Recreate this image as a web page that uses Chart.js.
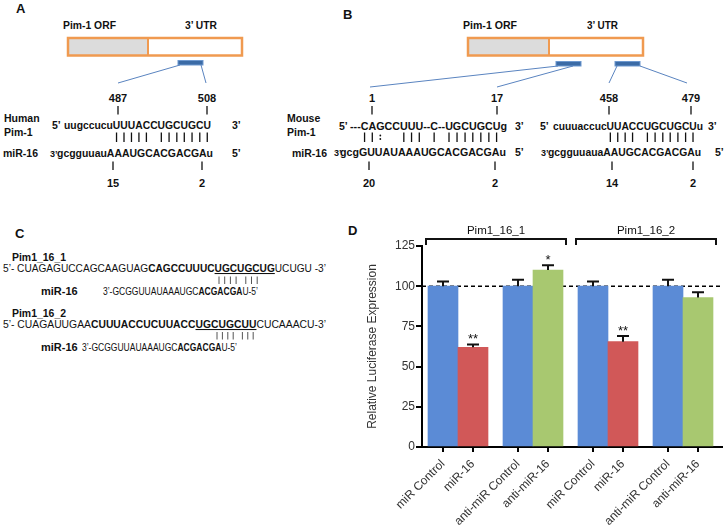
<!DOCTYPE html>
<html lang="en">
<head>
<meta charset="UTF-8" />
<title>Pim-1 / miR-16</title>
<script src="https://cdn.jsdelivr.net/npm/chart.js@4.4.0/dist/chart.umd.min.js"></script>
<style>
  body { margin: 0; background: #fff; }
  #page { position: relative; width: 725px; height: 527px; overflow: hidden; font-family: "Liberation Sans", Arial, sans-serif; }
  #art { position: absolute; left: 0; top: 0; }
  #chartD { position: absolute; left: 340px; top: 215px; }
</style>
</head>
<body>
<div id="page">
  <svg id="art" width="725" height="527" xmlns="http://www.w3.org/2000/svg"></svg>
  <canvas id="chartD" width="385" height="312"></canvas>
</div>
<script>
// ---- panel D data ----
const barLabels = ['miR Control', 'miR-16', 'anti-miR Control', 'anti-miR-16',
                   'miR Control', 'miR-16', 'anti-miR Control', 'anti-miR-16'];
const barPos = [0, 2, 5, 7, 10, 12, 15, 17];
const barValues = [100, 62, 100, 110, 100, 65.5, 100, 93];
const barErrors = [3, 1.8, 4, 3, 3, 3.6, 4, 3.3];
const barColors = ['#5B8BD6', '#D15858', '#5B8BD6', '#A8C870',
                   '#5B8BD6', '#D15858', '#5B8BD6', '#A8C870'];
const barStars = ['', '**', '', '*', '', '**', '', ''];
const groupNames = ['Pim1_16_1', 'Pim1_16_2'];
const refLine = 100;

// ---- diagram panels A-C ----
const svg = document.getElementById('art');
const NS = 'http://www.w3.org/2000/svg';
function el(tag, attrs, parent) {
  const e = document.createElementNS(NS, tag);
  for (const k in attrs) e.setAttribute(k, attrs[k]);
  (parent || svg).appendChild(e);
  return e;
}
function addText(x, y, parts, size, o) {
  o = o || {};
  const t = el('text', { x: x, y: y, 'font-size': size, 'font-weight': o.bold ? 'bold' : 'normal',
                         'text-anchor': o.anchor || 'start', fill: '#111' });
  t.style.whiteSpace = 'pre';
  if (o.len) { t.setAttribute('textLength', o.len); t.setAttribute('lengthAdjust', 'spacingAndGlyphs'); }
  (Array.isArray(parts) ? parts : [[parts, '']]).forEach(([s, st]) => {
    const sp = el('tspan', {}, t);
    if (st.includes('b')) sp.setAttribute('font-weight', 'bold');
    if (st.includes('u')) sp.setAttribute('text-decoration', 'underline');
    sp.textContent = s;
  });
  return t;
}
function pairBars(t, mask, y1, y2) {
  for (let i = 0; i < mask.length; i++) {
    const c = mask[i];
    if (c !== '|' && c !== ':') continue;
    const cx = (t.getStartPositionOfChar(i).x + t.getEndPositionOfChar(i).x) / 2;
    if (c === '|') el('line', { x1: cx, y1: y1, x2: cx, y2: y2, stroke: '#111', 'stroke-width': 1.3 });
    else {
      el('circle', { cx: cx, cy: y1 + 3, r: 0.9, fill: '#111' });
      el('circle', { cx: cx, cy: y2 - 3, r: 0.9, fill: '#111' });
    }
  }
}
function vline(x, y1, y2, w, c) {
  el('line', { x1: x, y1: y1, x2: x, y2: y2, stroke: c || '#111', 'stroke-width': w || 1.3 });
}

// gene boxes (ORF grey + UTR white)
function geneBox(x, w, split) {
  el('rect', { x: x, y: 38, width: split - x, height: 17.5, fill: '#DCDCDC' });
  el('rect', { x: x, y: 38, width: w, height: 17.5, fill: 'none', stroke: '#F09A50', 'stroke-width': 2.5 });
  el('line', { x1: split, y1: 38, x2: split, y2: 55.5, stroke: '#F09A50', 'stroke-width': 2 });
}
geneBox(68, 174, 148);
geneBox(468, 175, 549);
[[178, 60.5], [556, 61.5], [615, 61.5]].forEach(([x, y]) =>
  el('rect', { x: x, y: y, width: 25, height: 4.5, fill: '#3B6BA6', stroke: '#6D98CF', 'stroke-width': 1 }));
[[180, 65, 118, 83], [201, 65, 206, 83], [558, 66, 370, 87], [573, 66, 497, 87],
 [617, 66, 609, 83], [640, 66, 687, 83]].forEach(([a, b, c, d]) =>
  el('line', { x1: a, y1: b, x2: c, y2: d, stroke: '#5A84C0', 'stroke-width': 1 }));

// bold labels: [text, x, y, size, anchor]
const boldLabels = [
  ['A', 16, 13, 13], ['B', 343, 19, 13], ['C', 15, 238, 13], ['D', 348, 235, 13],
  ['Human', 4, 122, 10.5], ['Pim-1', 4, 136, 10.5], ['miR-16', 3, 157, 10.5],
  ['Mouse', 287, 122, 10.5], ['Pim-1', 287, 136, 10.5], ['miR-16', 292, 157, 10.5],
  ['5’', 52, 128.5, 10.5], ['3’', 232, 128.5, 10.5], ['3’', 50, 157, 9], ['5’', 232, 157, 10.5],
  ['5’', 339, 130, 10.5], ['3’', 515, 130, 10.5], ['3’', 334, 156, 9], ['5’', 515, 156, 10.5],
  ['5’', 540, 130, 10.5], ['3’', 708, 130, 10.5], ['3’', 541, 156, 9], ['5’', 715, 156, 10.5],
  ['487', 118, 102, 11, 'middle'], ['508', 207, 102, 11, 'middle'],
  ['15', 113, 187, 11, 'middle'], ['2', 202, 187, 11, 'middle'],
  ['1', 372, 102, 11, 'middle'], ['17', 497, 102, 11, 'middle'],
  ['458', 609, 102, 11, 'middle'], ['479', 691, 102, 11, 'middle'],
  ['20', 369, 187, 11, 'middle'], ['2', 495, 187, 11, 'middle'],
  ['14', 612, 187, 11, 'middle'], ['2', 693, 187, 11, 'middle'],
  ['miR-16', 41, 294.5, 11], ['miR-16', 41, 350.5, 11]
];
boldLabels.forEach(([s, x, y, size, anchor]) => addText(x, y, s, size, { bold: true, anchor: anchor }));
addText(63, 29, 'Pim-1 ORF', 11, { bold: true, len: 53 });
addText(185, 29, '3’ UTR', 11, { bold: true, len: 32 });
addText(463, 29, 'Pim-1 ORF', 11, { bold: true, len: 54 });
addText(587, 29, '3’ UTR', 11, { bold: true, len: 31 });
addText(12, 261, 'Pim1_16_1', 11, { bold: true, len: 54 });
addText(12, 317, 'Pim1_16_2', 11, { bold: true, len: 54 });

// number ticks
[118, 207, 372, 497, 609, 691].forEach(x => vline(x, 106, 114.5));
[113, 202, 369, 495, 612, 693].forEach(x => vline(x, 161.5, 170));

// duplexes: [target, x, y, len, mask, miR, x, y, len]
const duplexes = [
  ['uugccucuUUUACCUGCUGCU', 64, 128.5, 147, '        |||||.|||||||',
   'gcgguuauAAAUGCACGACGAu', 57, 157, 156],
  ['---CAGCCUUU--C--UGCUGCUg', 350, 130, 157, '   ||:  |||  |  ||||||| ',
   'gcgGUUAUAAAUGCACGACGAu', 340, 156, 166],
  ['cuuuaccucUUACCUGCUGCUu', 553, 130, 150, '         ||||.||||||| ',
   'gcgguuauaAAUGCACGACGAu', 548, 156, 153]
];
duplexes.forEach(([tg, tx, ty, tl, mask, mi, mx, my, ml]) => {
  const t = addText(tx, ty, tg, 10.5, { bold: true, len: tl });
  addText(mx, my, mi, 10.5, { bold: true, len: ml });
  pairBars(t, mask, 132.5, 142);
});

// panel C constructs
const seedSteps = [0, 1, 2, 3, 4.7, 5.7, 6.7];
addText(3, 272, [['5’- CUAGAGUCCAGCAAGUAG', ''], ['CAGCCUUUC', 'b'], ['UGCUGCUG', 'bu'], ['UCUGU -3’', '']], 10.5, { len: 323 });
seedSteps.forEach(k => vline(219 + 5.7 * k, 276.5, 284, 1, '#555'));
addText(103, 294.5, [['3’-GCGGUUAUAAAUGC', ''], ['ACGACGA', 'b'], ['U-5’', '']], 10.5, { len: 155 });
addText(3, 328, [['5’- CUAGAUUGAA', ''], ['CUUUACCUCUUACC', 'b'], ['UGCUGCUU', 'bu'], ['CUCAAACU-3’', '']], 10.5, { len: 323 });
seedSteps.forEach(k => vline(217 + 5.4 * k, 332, 339.5, 1, '#555'));
addText(82, 350.5, [['3’-GCGGUUAUAAAUGC', ''], ['ACGACGA', 'b'], ['U-5’', '']], 10.5, { len: 155 });

// ---- panel D chart ----
Chart.defaults.font.family = '"Liberation Sans", Arial, sans-serif';
const extras = {
  id: 'extras',
  beforeDatasetsDraw(chart) {
    const { ctx, chartArea, scales: { y } } = chart;
    const yy = y.getPixelForValue(refLine);
    ctx.save();
    ctx.setLineDash([4, 3]);
    ctx.lineWidth = 1.5;
    ctx.strokeStyle = '#000';
    ctx.beginPath(); ctx.moveTo(chartArea.left, yy); ctx.lineTo(chartArea.right, yy); ctx.stroke();
    ctx.restore();
  },
  afterDatasetsDraw(chart) {
    const { ctx, chartArea, scales: { y } } = chart;
    const bars = chart.getDatasetMeta(0).data;
    ctx.save();
    ctx.strokeStyle = '#111'; ctx.fillStyle = '#111'; ctx.lineWidth = 2;
    ctx.textAlign = 'center';
    bars.forEach((b, i) => {
      const top = y.getPixelForValue(barValues[i] + barErrors[i]);
      ctx.beginPath();
      ctx.moveTo(b.x, b.y); ctx.lineTo(b.x, top);
      ctx.moveTo(b.x - 6, top); ctx.lineTo(b.x + 6, top);
      ctx.stroke();
      if (barStars[i]) { ctx.font = '13px "Liberation Sans", Arial'; ctx.fillText(barStars[i], b.x, top - 1); }
    });
    groupNames.forEach((name, g) => {
      const first = bars[g * 4], last = bars[g * 4 + 3];
      const x1 = first.x - first.width / 2 - 2, x2 = last.x + last.width / 2 + 3;
      const yb = chartArea.top - 7;
      ctx.beginPath();
      ctx.moveTo(x1, yb + 6); ctx.lineTo(x1, yb); ctx.lineTo(x2, yb); ctx.lineTo(x2, yb + 6);
      ctx.stroke();
      ctx.font = '11.5px "Liberation Sans", Arial';
      ctx.fillText(name, (x1 + x2) / 2, yb - 5.5);
    });
    ctx.restore();
  }
};

new Chart(document.getElementById('chartD'), {
  type: 'bar',
  data: {
    datasets: [{
      data: barPos.map((p, i) => ({ x: p, y: barValues[i] })),
      backgroundColor: barColors,
      borderWidth: 0,
      barThickness: 30
    }]
  },
  options: {
    responsive: false,
    animation: false,
    layout: { padding: { top: 31, right: 3, left: 0, bottom: 0 } },
    plugins: { legend: { display: false }, tooltip: { enabled: false } },
    scales: {
      x: {
        type: 'linear', min: -1.4, max: 18.6, offset: false,
        afterBuildTicks: s => { s.ticks = barPos.map(v => ({ value: v })); },
        afterFit: s => { s.height = 80; },
        grid: { drawOnChartArea: false, offset: false, tickLength: 5, color: '#000', lineWidth: 2 },
        border: { color: '#000', width: 2 },
        ticks: {
          autoSkip: false, minRotation: 45, maxRotation: 45, padding: 5,
          color: '#333', font: { size: 12 },
          callback: v => barLabels[barPos.indexOf(v)]
        }
      },
      y: {
        min: 0, max: 125,
        afterFit: s => { s.width = 82; },
        grid: { drawOnChartArea: false, tickLength: 6, color: '#000', lineWidth: 2 },
        border: { color: '#000', width: 2 },
        ticks: { stepSize: 25, color: '#333', font: { size: 12 }, padding: 1 },
        title: { display: true, text: 'Relative Luciferase Expression', color: '#333',
                 font: { size: 12 }, padding: { top: 25 } }
      }
    }
  },
  plugins: [extras]
});
</script>
</body>
</html>
